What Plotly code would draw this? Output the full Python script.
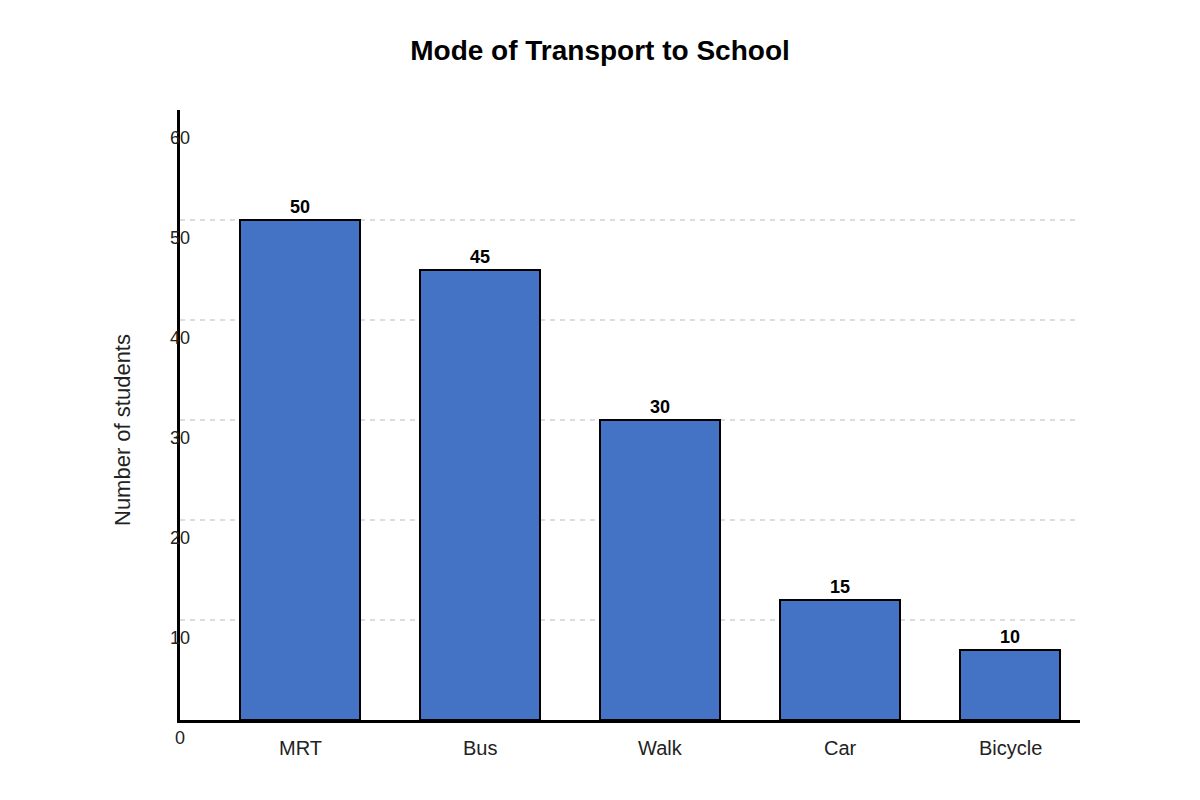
import plotly.graph_objects as go

# ---- data ----
modes = ["MRT", "Bus", "Walk", "Car", "Bicycle"]
bar_heights = [50, 45, 30, 12, 7]          # drawn bar heights
value_labels = ["50", "45", "30", "15", "10"]  # labels printed above bars
y_tick_values = [0, 10, 20, 30, 40, 50, 60]
grid_values = [10, 20, 30, 40, 50]

FONT = "Liberation Sans, Arial, sans-serif"
BAR_COLOR = "#4472C4"

bar_widths = [0.6667, 0.6667, 0.6667, 0.6667, 0.5556]
bar_offsets = [-0.3333] * 5

fig = go.Figure()
fig.add_trace(go.Bar(
    x=modes,
    y=bar_heights,
    width=bar_widths,
    offset=bar_offsets,
    marker=dict(color=BAR_COLOR, line=dict(color="black", width=2)),
    text=value_labels,
    textposition="outside",
    textfont=dict(family=FONT, size=18, color="black", weight="bold"),
    cliponaxis=False,
    hoverinfo="skip",
))

annotations = []
for v in y_tick_values:
    annotations.append(dict(
        x=0, xref="paper", y=v, yref="y", yshift=-18,
        text=str(v), showarrow=False, xanchor="center", yanchor="middle",
        font=dict(family=FONT, size=18, color="#222222"),
    ))
# category labels centred under each bar
for i, name in enumerate(modes):
    annotations.append(dict(
        x=i + bar_offsets[i] + bar_widths[i] / 2, xref="x",
        y=0, yref="y", yshift=-28,
        text=name, showarrow=False, xanchor="center", yanchor="middle",
        font=dict(family=FONT, size=20, color="#222222"),
    ))
annotations.append(dict(
    x=0, xref="paper", xshift=-58, y=29, yref="y",
    text="Number of students", textangle=-90, showarrow=False,
    xanchor="center", yanchor="middle",
    font=dict(family=FONT, size=22, color="#222222"),
))

fig.update_layout(
    width=1200, height=800,
    margin=dict(l=180, r=120, t=110, b=80),
    paper_bgcolor="white", plot_bgcolor="white",
    showlegend=False,
    title=dict(
        text="<b>Mode of Transport to School</b>",
        x=0.5, xanchor="center", y=1 - 50 / 800, yanchor="middle",
        xref="container", yref="container",
        font=dict(family=FONT, size=28, color="black"),
    ),
    bargap=0,
    xaxis=dict(
        type="category",
        range=[-0.6667, 4.3333],
        showline=True, linecolor="black", linewidth=2.5,
        showgrid=False, zeroline=False, ticks="",
        showticklabels=False,
    ),
    yaxis=dict(
        range=[0, 61],
        showline=True, linecolor="black", linewidth=2.5,
        tickvals=grid_values, showticklabels=False, ticks="",
        showgrid=True, gridcolor="#dddddd", gridwidth=1.5, griddash="5px,5px",
        zeroline=False,
    ),
    annotations=annotations,
)

fig.write_html(
    "out.html",
    config={"displayModeBar": False},
    post_script="document.body.style.margin='0';document.body.style.padding='0';",
)
